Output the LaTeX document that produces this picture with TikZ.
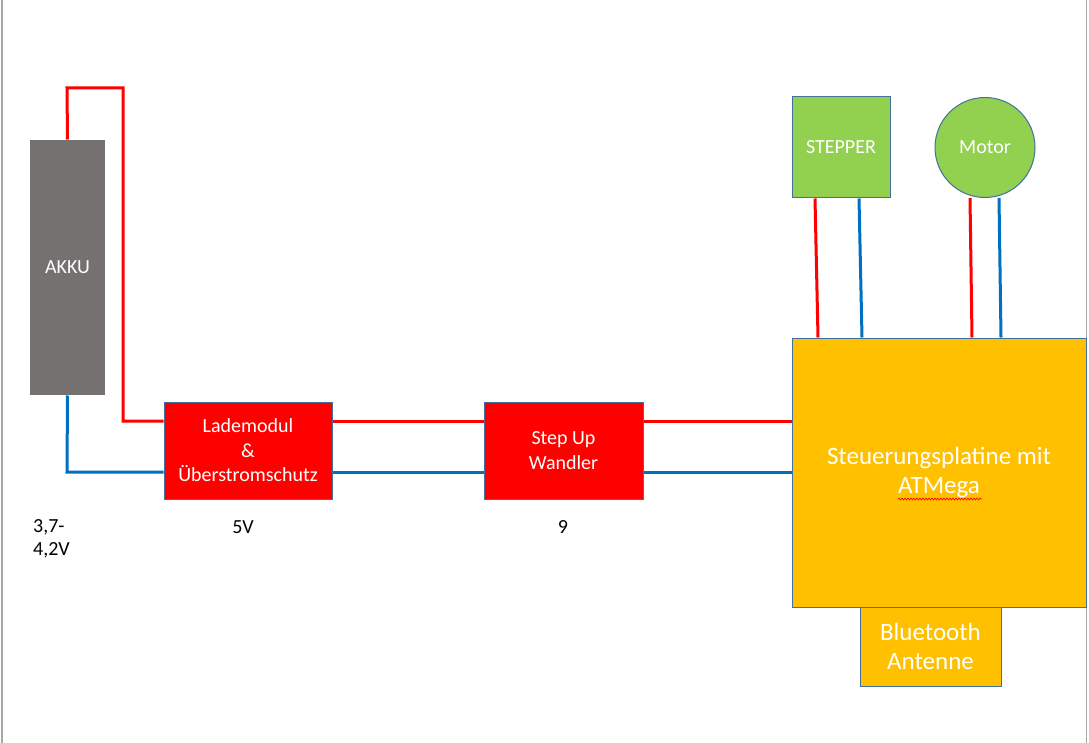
\documentclass[tikz,border=0pt]{standalone}
\usepackage{fontspec}
\setmainfont{Carlito}
\usetikzlibrary{decorations.pathmorphing}
\pgfdeclarelayer{background}
\pgfsetlayers{background,main}
\definecolor{wred}{HTML}{FF0000}
\definecolor{wblue}{HTML}{0070C0}
\definecolor{edge}{HTML}{41719C}
\definecolor{akkugray}{HTML}{767171}
\definecolor{boxred}{HTML}{FF0000}
\definecolor{gold}{HTML}{FFC000}
\definecolor{lgreen}{HTML}{92D050}
\begin{document}
\begin{tikzpicture}[x=1pt,y=-1pt,
  redw/.style={draw=wred,line width=3pt},
  bluew/.style={draw=wblue,line width=3pt},
  blk/.style={rectangle,draw=edge,line width=1pt,text=white,align=center,inner sep=0pt,font=\fontsize{20}{24.5}\selectfont},
  bigblk/.style={blk,font=\fontsize{25}{29.5}\selectfont},
  lbl/.style={text=black,font=\fontsize{20}{23}\selectfont,inner sep=0pt}]
\useasboundingbox (0,0) rectangle (1089,743);
\begin{pgfonlayer}{background}
\fill[white] (0,0) rectangle (1089,743);
\draw[gray!70,line width=1.5pt] (2,0) -- (2,743);
\draw[gray!70,line width=1.5pt] (1086.5,0) -- (1086.5,743);
\end{pgfonlayer}

% nodes
\node[blk,fill=akkugray,draw=none,minimum width=75pt,minimum height=255pt] (akku) at (67.5,267.5) {AKKU};
\node[blk,fill=boxred,minimum width=168pt,minimum height=97pt] (lade) at (248,450.5) {Lademodul\\\&\\Überstromschutz};
\node[blk,fill=boxred,minimum width=159pt,minimum height=97pt] (step) at (563.5,450.5) {Step Up\\Wandler};
\node[bigblk,fill=gold,minimum width=294pt,minimum height=269pt] (steuer) at (939,472.5) {Steuerungsplatine mit\\ATMega};
\node[bigblk,fill=gold,minimum width=141pt,minimum height=79pt] (bt) at (930.5,646.5) {Bluetooth\\Antenne};
\node[blk,fill=lgreen,minimum width=98pt,minimum height=101pt] (stepper) at (841,147.5) {STEPPER};
\node[blk,fill=lgreen,circle,minimum size=100pt] (motor) at (985,147.5) {Motor};

% wires
\coordinate (r1) at (67,88);
\coordinate (r2) at (123,88);
\coordinate (b1) at (67,472);
\begin{pgfonlayer}{background}
\draw[redw,line join=miter] (akku.north) -- (r1) -- (r2) |- ([yshift=29.5pt]lade.west);
\draw[bluew,line join=miter] (akku.south) -- (b1) -- ([yshift=-21.5pt]lade.west);
\draw[redw] ([yshift=29.5pt]lade.east) -- ([yshift=29.5pt]step.west);
\draw[bluew] ([yshift=-21.5pt]lade.east) -- ([yshift=-21.5pt]step.west);
\draw[redw] ([yshift=29.5pt]step.east) -- ([yshift=51.5pt]steuer.west);
\draw[bluew] ([yshift=-21.5pt]step.east) -- ([yshift=0.5pt]steuer.west);
\draw[redw] ([xshift=-26pt]stepper.south) -- ([xshift=-121pt]steuer.north);
\draw[bluew] ([xshift=18pt]stepper.south) -- ([xshift=-77pt]steuer.north);
\draw[redw] ([xshift=-15pt]motor.south) -- ([xshift=33pt]steuer.north);
\draw[bluew] ([xshift=14pt]motor.south) -- ([xshift=62pt]steuer.north);
\end{pgfonlayer}

% squiggle under ATMega
\coordinate (sq1) at (898,499);
\coordinate (sq2) at (982,499);
\draw[wred,line width=0.6pt,decorate,decoration={snake,amplitude=1pt,segment length=3pt}] (sq1) -- (sq2);

% labels
\node[lbl,anchor=west,align=left] (v1) at (33,538.5) {3,7-\\4,2V};
\node[lbl] (v2) at (243,527) {5V};
\node[lbl] (v3) at (563,527) {9};
\end{tikzpicture}
\end{document}
